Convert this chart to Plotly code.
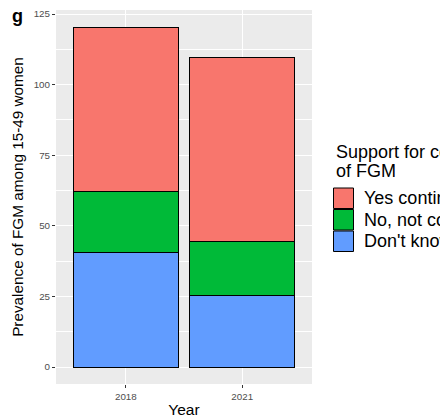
import plotly.graph_objects as go

# Prevalence of FGM among women aged 15-49, split by support for continuation
years = ["2018", "2021"]
dont_know = [40.6, 25.3]
no_not_continue = [21.7, 19.2]
yes_continue = [58.1, 65.0]

series = [
    ("Don't know", dont_know, "#619CFF"),
    ("No, not continue", no_not_continue, "#00BA38"),
    ("Yes continue", yes_continue, "#F8766D"),
]

y_ticks = [0, 25, 50, 75, 100, 125]

fig = go.Figure()
for name, vals, color in series:
    fig.add_trace(go.Bar(
        x=years, y=vals, name=name, width=0.9,
        marker=dict(color=color, line=dict(color="black", width=1)),
        showlegend=False,
    ))

totals = [a + b + c for a, b, c in zip(dont_know, no_not_continue, yes_continue)]
ymax = max(totals)
pad = 0.05 * ymax

FONT = "Liberation Sans, Arial, sans-serif"

fig.update_layout(
    width=440, height=420,
    margin=dict(l=56, r=128, t=10, b=36),
    barmode="stack",
    paper_bgcolor="white",
    plot_bgcolor="#EBEBEB",
    font=dict(family=FONT, color="black"),
    xaxis=dict(
        type="category", range=[-0.6, 1.6],
        showgrid=True, gridcolor="white", gridwidth=1.1,
        ticks="outside", ticklen=3, tickcolor="#333333", tickwidth=1,
        tickfont=dict(size=9.8, color="#4D4D4D"),
        title=dict(text="Year", font=dict(size=15.5), standoff=3),
        zeroline=False, showline=False, automargin=False,
    ),
    yaxis=dict(
        range=[-pad, ymax + pad],
        tickvals=y_ticks,
        showgrid=True, gridcolor="white", gridwidth=1.1,
        minor=dict(dtick=12.5, tick0=0, showgrid=True, gridcolor="white", gridwidth=0.55),
        ticks="outside", ticklen=3, tickcolor="#333333", tickwidth=1,
        tickfont=dict(size=9.8, color="#4D4D4D"),
        title=dict(text="Prevalence of FGM among 15-49 women", font=dict(size=15.3), standoff=6),
        zeroline=False, showline=False, automargin=False,
    ),
)

# panel tag
fig.add_annotation(text="<b>g</b>", xref="paper", yref="paper", x=-0.152, y=0.983,
                   showarrow=False, font=dict(size=18, color="black"),
                   xanchor="center", yanchor="middle")

# legend drawn beside the panel
PW, PH = 256, 374
def px(x):
    return (x - 56) / PW
def py(y):
    return (384 - y) / PH

fig.add_annotation(text="Support for continuation", xref="paper", yref="paper",
                   x=px(334), y=py(152), showarrow=False, xanchor="left", yanchor="middle",
                   font=dict(size=18, color="black"))
fig.add_annotation(text="of FGM", xref="paper", yref="paper",
                   x=px(334), y=py(171.5), showarrow=False, xanchor="left", yanchor="middle",
                   font=dict(size=18, color="black"))

box_top = 187.5
box_h = 21.5
for i, (name, vals, color) in enumerate(reversed(series)):
    y0 = box_top + i * box_h
    fig.add_shape(type="rect", xref="paper", yref="paper",
                  x0=px(333.5), x1=px(353.5), y0=py(y0 + box_h - 0.5), y1=py(y0 + 0.5),
                  fillcolor=color, line=dict(color="black", width=1))
    fig.add_annotation(text=name, xref="paper", yref="paper",
                       x=px(362), y=py(y0 + box_h / 2), showarrow=False,
                       xanchor="left", yanchor="middle",
                       font=dict(size=18, color="black"))

fig.write_html("out.html")
